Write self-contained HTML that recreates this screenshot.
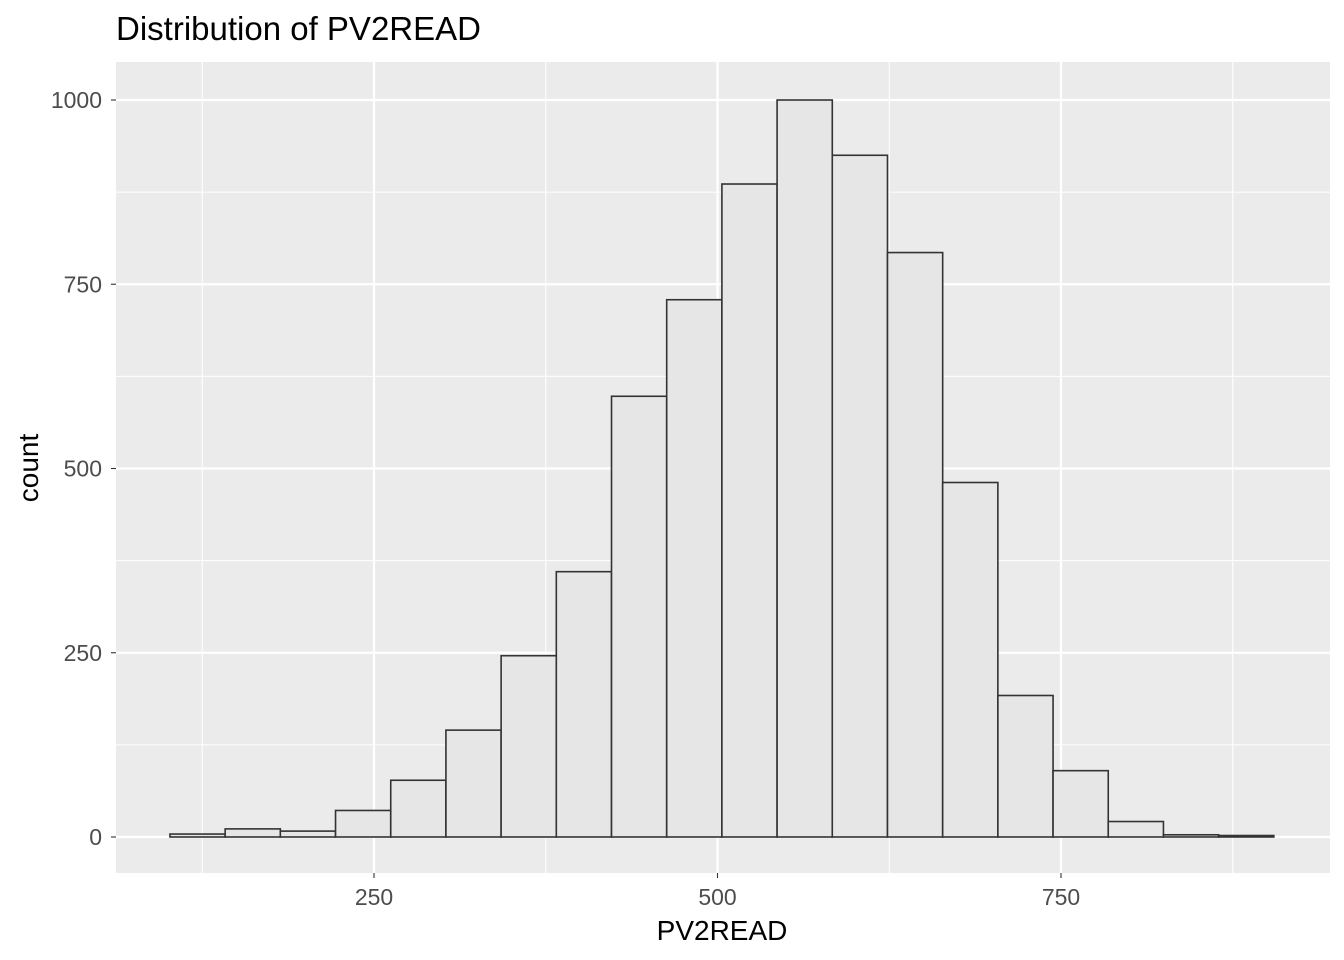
<!DOCTYPE html>
<html><head><meta charset="utf-8"><style>
html,body{margin:0;padding:0;background:#fff;}
svg{display:block;font-family:"Liberation Sans",Arial,sans-serif;}
</style></head><body>
<svg id="chart" width="1344" height="960" xmlns="http://www.w3.org/2000/svg">
<rect x="116" y="62" width="1214" height="811" fill="#ebebeb"/>
<g id="grid"></g>
<g id="bars"></g>
<g id="axes"></g>
<text x="116" y="40" font-size="33" fill="#000">Distribution of PV2READ</text>
<text x="722" y="940" font-size="28" text-anchor="middle" fill="#000">PV2READ</text>
<text transform="translate(38,468) rotate(-90)" font-size="28" text-anchor="middle" fill="#000">count</text>
</svg>
<script>
const binStart = 101.5;
const binWidth = 40.17;
const counts = [4, 11, 8, 36, 77, 145, 246, 360, 598, 729, 886, 1000, 925, 793, 481, 192, 90, 21, 3, 2];
const xTicks = [250, 500, 750];
const xMinor = [125, 375, 625, 875];
const yTicks = [0, 250, 500, 750, 1000];
const yMinor = [125, 375, 625, 875];

const NS = "http://www.w3.org/2000/svg";
const X = v => 30.5 + v * 1.374;
const Y = v => 837 - v * 0.737;
const PL = 116, PR = 1330, PT = 62, PB = 873;
function mk(tag, attrs, parent) {
  const e = document.createElementNS(NS, tag);
  for (const k in attrs) e.setAttribute(k, attrs[k]);
  parent.appendChild(e);
  return e;
}
const grid = document.getElementById('grid');
const bars = document.getElementById('bars');
const axes = document.getElementById('axes');
xMinor.forEach(v => {
  const l = mk('line', {x1: X(v), x2: X(v), y1: PT, y2: PB, stroke: '#fff', 'stroke-width': 1.1}, grid);
  
  
});
yMinor.forEach(v => {
  const l = mk('line', {x1: PL, x2: PR, y1: Y(v), y2: Y(v), stroke: '#fff', 'stroke-width': 1.1}, grid);
  
  
});
xTicks.forEach(v => {
  const l = mk('line', {x1: X(v), x2: X(v), y1: PT, y2: PB, stroke: '#fff', 'stroke-width': 2.2}, grid);
  
  
  const t = mk('line', {x1: X(v), x2: X(v), y1: PB, y2: PB + 5, stroke: '#333', 'stroke-width': 1.1}, axes);
  
  
  const tx = mk('text', {x: X(v), y: PB + 32, 'font-size': 23, 'text-anchor': 'middle', fill: '#4d4d4d'}, axes);
  tx.textContent = v;
  
  
});
yTicks.forEach(v => {
  const l = mk('line', {x1: PL, x2: PR, y1: Y(v), y2: Y(v), stroke: '#fff', 'stroke-width': 2.2}, grid);
  
  
  const t = mk('line', {x1: PL - 5, x2: PL, y1: Y(v), y2: Y(v), stroke: '#333', 'stroke-width': 1.1}, axes);
  
  
  const tx = mk('text', {x: PL - 14, y: Y(v) + 8, 'font-size': 23, 'text-anchor': 'end', fill: '#4d4d4d'}, axes);
  tx.textContent = v;
  
  
});
counts.forEach((c, i) => {
  const x0 = X(binStart + i * binWidth), x1 = X(binStart + (i + 1) * binWidth);
  const r = mk('rect', {x: x0, y: Y(c), width: x1 - x0, height: Y(0) - Y(c), fill: '#e6e6e6', stroke: '#333', 'stroke-width': 1.6}, bars);
  
  
});
</script>
</body></html>
